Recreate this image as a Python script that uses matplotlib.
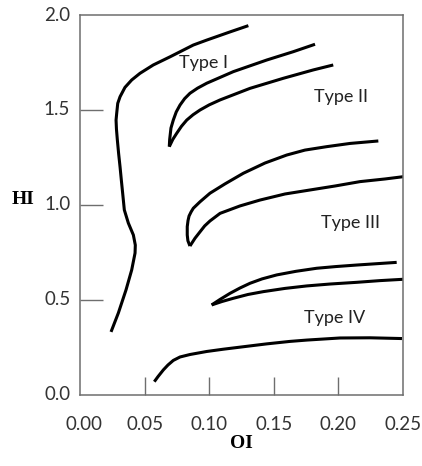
import matplotlib
matplotlib.use("Agg")
import matplotlib.pyplot as plt

# boundary curves (OI, HI)
left_oi = [0.0240, 0.0297, 0.0356, 0.0400, 0.0426, 0.0428, 0.0413, 0.0374, 0.0343,
           0.0330, 0.0320, 0.0310, 0.0299, 0.0289, 0.0282, 0.0279, 0.0284, 0.0292,
           0.0310, 0.0348, 0.0400, 0.0464, 0.0567, 0.0697, 0.0877, 0.0981, 0.1161,
           0.1303]
left_hi = [0.332, 0.432, 0.553, 0.658, 0.747, 0.789, 0.842, 0.905, 0.974,
           1.063, 1.130, 1.200, 1.270, 1.342, 1.400, 1.447, 1.483, 1.535,
           1.570, 1.619, 1.658, 1.693, 1.737, 1.780, 1.842, 1.868, 1.911,
           1.944]

t12_upper_oi = [0.0691, 0.0694, 0.0704, 0.0722, 0.0745, 0.0774, 0.0810, 0.0851, 0.0910,
                0.0981, 0.1187, 0.1445, 0.1651, 0.1819]
t12_upper_hi = [1.307, 1.345, 1.405, 1.447, 1.490, 1.526, 1.560, 1.588, 1.615,
                1.641, 1.702, 1.763, 1.807, 1.846]
t12_lower_oi = [0.0691, 0.0718, 0.0748, 0.0785, 0.0826, 0.0875, 0.0929, 0.1000, 0.1084,
                0.1316, 0.1574, 0.1806, 0.1960]
t12_lower_hi = [1.307, 1.345, 1.377, 1.414, 1.447, 1.475, 1.500, 1.527, 1.553,
                1.614, 1.667, 1.711, 1.737]

t23_upper_oi = [0.0851, 0.0835, 0.0830, 0.0830, 0.0836, 0.0844, 0.0860, 0.0877, 0.0929,
                0.1006, 0.1122, 0.1264, 0.1432, 0.1600, 0.1741, 0.1909, 0.2090, 0.2309]
t23_upper_hi = [0.784, 0.812, 0.842, 0.886, 0.918, 0.942, 0.964, 0.983, 1.017,
                1.062, 1.111, 1.167, 1.221, 1.263, 1.289, 1.307, 1.324, 1.337]
t23_lower_oi = [0.0851, 0.0890, 0.0929, 0.0965, 0.1006, 0.1084, 0.1238, 0.1393, 0.1587,
                0.1780, 0.1974, 0.2167, 0.2361, 0.2502]
t23_lower_hi = [0.784, 0.825, 0.859, 0.890, 0.916, 0.956, 0.995, 1.026, 1.058,
                1.079, 1.100, 1.123, 1.137, 1.149]

t34_upper_oi = [0.1019, 0.1084, 0.1161, 0.1238, 0.1316, 0.1409, 0.1523, 0.1672, 0.1832,
                0.1981, 0.2142, 0.2451]
t34_upper_hi = [0.474, 0.503, 0.535, 0.563, 0.588, 0.611, 0.632, 0.651, 0.667,
                0.676, 0.684, 0.698]
t34_lower_oi = [0.1019, 0.1099, 0.1187, 0.1300, 0.1419, 0.1587, 0.1755, 0.1935, 0.2142,
                0.2322, 0.2502]
t34_lower_hi = [0.474, 0.492, 0.509, 0.529, 0.544, 0.561, 0.574, 0.584, 0.593,
                0.602, 0.609]

bottom_oi = [0.0575, 0.0604, 0.0645, 0.0681, 0.0722, 0.0774, 0.0851, 0.0981, 0.1110,
             0.1277, 0.1445, 0.1625, 0.1755, 0.2012, 0.2245, 0.2492]
bottom_hi = [0.070, 0.097, 0.132, 0.158, 0.182, 0.200, 0.213, 0.229, 0.241,
             0.255, 0.269, 0.282, 0.289, 0.300, 0.301, 0.297]

type_labels = ["Type I", "Type II", "Type III", "Type IV"]
label_oi = [0.0955, 0.2018, 0.2095, 0.1973]
label_hi = [1.747, 1.570, 0.907, 0.407]

x_ticks = [0.05, 0.10, 0.15, 0.20]
y_ticks = [0.5, 1.0, 1.5]
x_labels = [0.00, 0.05, 0.10, 0.15, 0.20, 0.25]
y_labels = [0.0, 0.5, 1.0, 1.5, 2.0]

fig = plt.figure(figsize=(4.22, 4.66), dpi=100)
ax = fig.add_axes([0.1896, 0.1524, 0.7654, 0.8154])

curves = [
    (left_oi, left_hi),
    (t12_upper_oi, t12_upper_hi), (t12_lower_oi, t12_lower_hi),
    (t23_upper_oi, t23_upper_hi), (t23_lower_oi, t23_lower_hi),
    (t34_upper_oi, t34_upper_hi), (t34_lower_oi, t34_lower_hi),
    (bottom_oi, bottom_hi),
]
for xs, ys in curves:
    ax.plot(xs, ys, color="black", lw=2.2, solid_joinstyle="round",
            solid_capstyle="butt")

for lab, x, y in zip(type_labels, label_oi, label_hi):
    ax.text(x, y, lab, fontsize=13, family="Lato", color="#222222",
            ha="center", va="center")

ax.set_xlim(0, 0.25)
ax.set_ylim(0, 2.0)
ax.set_xticks(x_ticks)
ax.set_yticks(y_ticks)
ax.tick_params(axis="x", direction="in", length=13, width=1.0, color="#6e6e6e",
               labelbottom=False)
ax.tick_params(axis="y", direction="in", length=16.5, width=1.0, color="#6e6e6e",
               labelleft=False)

# tick labels drawn as text so that the end values sit at the frame corners
for v in x_labels:
    ax.annotate(f"{v:.2f}", xy=(v, 0), xycoords="data", xytext=(3 if v == 0 else 0, -15),
                textcoords="offset points", fontsize=13.5, family="Lato",
                color="#333333", ha="center", va="top", annotation_clip=False)
for v in y_labels:
    ax.annotate(f"{v:.1f}", xy=(0, v), xycoords="data", xytext=(-7, 0),
                textcoords="offset points", fontsize=13.5, family="Lato",
                color="#333333", ha="right", va="center", annotation_clip=False)

for s in ax.spines.values():
    s.set_color("#6e6e6e")
    s.set_linewidth(1.1)

fig.text(0.055, 1 - 200 / 466, "HI", fontsize=14, family="Liberation Serif",
         weight="bold", ha="center", va="center")
fig.text(241.7 / 422, 1 - 444 / 466, "OI", fontsize=14, family="Liberation Serif",
         weight="bold", ha="center", va="center")

fig.savefig("out.png", dpi=100)
